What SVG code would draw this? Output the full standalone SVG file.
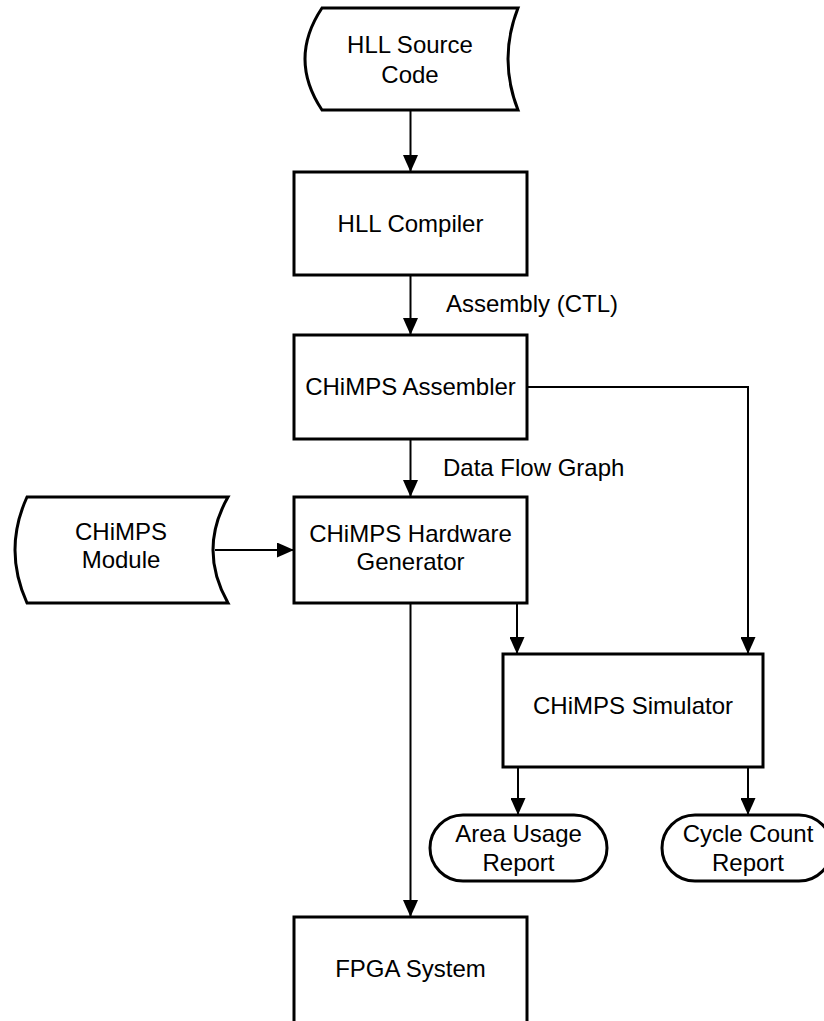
<svg xmlns="http://www.w3.org/2000/svg" width="824" height="1021" viewBox="0 0 824 1021">
<defs>
<marker id="arr" markerWidth="17" markerHeight="15" refX="17" refY="7.5" orient="auto" markerUnits="userSpaceOnUse" viewBox="0 0 17 15">
<path d="M0,0 L17,7.5 L0,15 Z" fill="#000"/>
</marker>
<style>
.shape{fill:#fff;stroke:#000;stroke-width:3}
.conn{fill:none;stroke:#000;stroke-width:2}
text{font-family:"Liberation Sans",Arial,sans-serif;font-size:24px;fill:#000}
.c{text-anchor:middle}
</style>
</defs>
<rect width="824" height="1021" fill="#fff"/>
<g id="connectors">
<path class="conn" d="M410.5,110 V172" marker-end="url(#arr)"/>
<path class="conn" d="M410.5,275 V335" marker-end="url(#arr)"/>
<path class="conn" d="M410.5,439 V497" marker-end="url(#arr)"/>
<path class="conn" d="M527,387 H748 V654" marker-end="url(#arr)"/>
<path class="conn" d="M215,550 H294" marker-end="url(#arr)"/>
<path class="conn" d="M517,603 V654" marker-end="url(#arr)"/>
<path class="conn" d="M410.5,603 V917" marker-end="url(#arr)"/>
<path class="conn" d="M518,767 V815" marker-end="url(#arr)"/>
<path class="conn" d="M748,767 V815" marker-end="url(#arr)"/>
</g>
<g id="hll_source">
<path class="shape" d="M322,8 L518,8 Q498,59 518,110 L322,110 Q288,59 322,8 Z"/>
<text class="c" x="410" y="53">HLL Source</text>
<text class="c" x="410" y="83">Code</text>
</g>
<g id="hll_compiler">
<rect class="shape" x="294" y="172" width="233" height="103"/>
<text class="c" x="410.5" y="232">HLL Compiler</text>
</g>
<text id="label_assembly" x="446" y="312">Assembly (CTL)</text>
<g id="assembler">
<rect class="shape" x="294" y="335" width="233" height="104"/>
<text class="c" x="410.5" y="395">CHiMPS Assembler</text>
</g>
<text id="label_dfg" x="443" y="476">Data Flow Graph</text>
<g id="module">
<path class="shape" d="M27,497 L228,497 Q198,550 228,603 L27,603 Q3,550 27,497 Z"/>
<text class="c" x="121" y="540">CHiMPS</text>
<text class="c" x="121" y="568">Module</text>
</g>
<g id="generator">
<rect class="shape" x="294" y="497" width="233" height="106"/>
<text class="c" x="410.5" y="542">CHiMPS Hardware</text>
<text class="c" x="410.5" y="570">Generator</text>
</g>
<g id="simulator">
<rect class="shape" x="503" y="654" width="260" height="113"/>
<text class="c" x="633" y="714">CHiMPS Simulator</text>
</g>
<g id="area_report">
<rect class="shape" x="430" y="815" width="177" height="66" rx="33" ry="33"/>
<text class="c" x="518.5" y="842">Area Usage</text>
<text class="c" x="518.5" y="871">Report</text>
</g>
<g id="cycle_report">
<rect class="shape" x="662" y="815" width="170" height="66" rx="33" ry="33"/>
<text class="c" x="748" y="842">Cycle Count</text>
<text class="c" x="748" y="871">Report</text>
</g>
<g id="fpga">
<rect class="shape" x="294" y="917" width="233" height="120"/>
<text class="c" x="410.5" y="977">FPGA System</text>
</g>
</svg>
